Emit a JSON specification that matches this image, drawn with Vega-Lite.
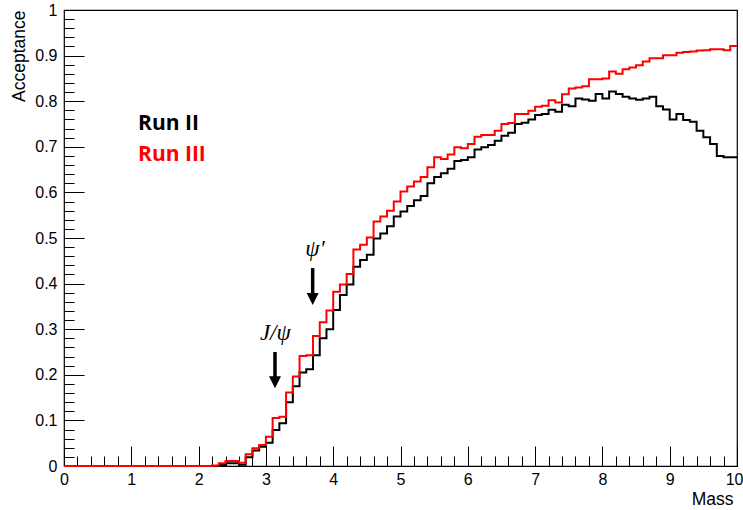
{
  "$schema": "https://vega.github.io/schema/vega-lite/v6.json",
  "width": 673,
  "height": 456,
  "autosize": {"type": "none"},
  "padding": {"left": 64, "top": 10, "right": 6, "bottom": 44},
  "background": "white",
  "config": {
    "font": "Liberation Sans",
    "view": {"stroke": "#000", "strokeWidth": 1.2},
    "axis": {
      "domain": false,
      "grid": false,
      "labelFlush": false,
      "tickColor": "#000",
      "tickWidth": 1,
      "labelColor": "#000",
      "labelFont": "Liberation Sans",
      "labelFontSize": 16,
      "titleColor": "#000",
      "titleFont": "Liberation Sans",
      "titleFontSize": 17.5,
      "titleFontWeight": "normal"
    }
  },
  "data": {
    "values": [
      {"m": 0.0, "II": 0, "III": 0}, {"m": 0.1, "II": 0, "III": 0}, {"m": 0.2, "II": 0, "III": 0}, {"m": 0.3, "II": 0, "III": 0},
      {"m": 0.4, "II": 0, "III": 0}, {"m": 0.5, "II": 0, "III": 0}, {"m": 0.6, "II": 0, "III": 0}, {"m": 0.7, "II": 0, "III": 0},
      {"m": 0.8, "II": 0, "III": 0}, {"m": 0.9, "II": 0, "III": 0}, {"m": 1.0, "II": 0, "III": 0}, {"m": 1.1, "II": 0, "III": 0},
      {"m": 1.2, "II": 0, "III": 0}, {"m": 1.3, "II": 0, "III": 0}, {"m": 1.4, "II": 0, "III": 0}, {"m": 1.5, "II": 0, "III": 0},
      {"m": 1.6, "II": 0, "III": 0}, {"m": 1.7, "II": 0, "III": 0}, {"m": 1.8, "II": 0, "III": 0}, {"m": 1.9, "II": 0, "III": 0},
      {"m": 2.0, "II": 0, "III": 0}, {"m": 2.1, "II": 0, "III": 0}, {"m": 2.2, "II": 0, "III": 0.001}, {"m": 2.3, "II": 0.002, "III": 0.006},
      {"m": 2.4, "II": 0.006, "III": 0.011}, {"m": 2.5, "II": 0.006, "III": 0.011}, {"m": 2.6, "II": 0.003, "III": 0.007}, {"m": 2.7, "II": 0.019, "III": 0.026},
      {"m": 2.8, "II": 0.034, "III": 0.039}, {"m": 2.9, "II": 0.042, "III": 0.046}, {"m": 3.0, "II": 0.051, "III": 0.064}, {"m": 3.1, "II": 0.079, "III": 0.105},
      {"m": 3.2, "II": 0.094, "III": 0.108}, {"m": 3.3, "II": 0.14, "III": 0.161}, {"m": 3.4, "II": 0.175, "III": 0.196}, {"m": 3.5, "II": 0.205, "III": 0.241},
      {"m": 3.6, "II": 0.212, "III": 0.243}, {"m": 3.7, "II": 0.243, "III": 0.285}, {"m": 3.8, "II": 0.28, "III": 0.315}, {"m": 3.9, "II": 0.3, "III": 0.341},
      {"m": 4.0, "II": 0.342, "III": 0.382}, {"m": 4.1, "II": 0.375, "III": 0.398}, {"m": 4.2, "II": 0.398, "III": 0.421}, {"m": 4.3, "II": 0.437, "III": 0.475},
      {"m": 4.4, "II": 0.452, "III": 0.485}, {"m": 4.5, "II": 0.463, "III": 0.501}, {"m": 4.6, "II": 0.499, "III": 0.536}, {"m": 4.7, "II": 0.51, "III": 0.547},
      {"m": 4.8, "II": 0.526, "III": 0.56}, {"m": 4.9, "II": 0.547, "III": 0.58}, {"m": 5.0, "II": 0.558, "III": 0.602}, {"m": 5.1, "II": 0.57, "III": 0.613},
      {"m": 5.2, "II": 0.583, "III": 0.624}, {"m": 5.3, "II": 0.592, "III": 0.634}, {"m": 5.4, "II": 0.62, "III": 0.655}, {"m": 5.5, "II": 0.634, "III": 0.677},
      {"m": 5.6, "II": 0.642, "III": 0.673}, {"m": 5.7, "II": 0.652, "III": 0.683}, {"m": 5.8, "II": 0.669, "III": 0.699}, {"m": 5.9, "II": 0.671, "III": 0.697},
      {"m": 6.0, "II": 0.677, "III": 0.706}, {"m": 6.1, "II": 0.694, "III": 0.722}, {"m": 6.2, "II": 0.699, "III": 0.726}, {"m": 6.3, "II": 0.704, "III": 0.726},
      {"m": 6.4, "II": 0.713, "III": 0.735}, {"m": 6.5, "II": 0.724, "III": 0.75}, {"m": 6.6, "II": 0.731, "III": 0.752}, {"m": 6.7, "II": 0.75, "III": 0.772},
      {"m": 6.8, "II": 0.753, "III": 0.772}, {"m": 6.9, "II": 0.76, "III": 0.779}, {"m": 7.0, "II": 0.77, "III": 0.788}, {"m": 7.1, "II": 0.772, "III": 0.79},
      {"m": 7.2, "II": 0.781, "III": 0.802}, {"m": 7.3, "II": 0.777, "III": 0.797}, {"m": 7.4, "II": 0.792, "III": 0.815}, {"m": 7.5, "II": 0.789, "III": 0.828},
      {"m": 7.6, "II": 0.806, "III": 0.83}, {"m": 7.7, "II": 0.804, "III": 0.833}, {"m": 7.8, "II": 0.801, "III": 0.848}, {"m": 7.9, "II": 0.816, "III": 0.848},
      {"m": 8.0, "II": 0.806, "III": 0.85}, {"m": 8.1, "II": 0.821, "III": 0.865}, {"m": 8.2, "II": 0.816, "III": 0.86}, {"m": 8.3, "II": 0.81, "III": 0.87},
      {"m": 8.4, "II": 0.806, "III": 0.874}, {"m": 8.5, "II": 0.803, "III": 0.879}, {"m": 8.6, "II": 0.806, "III": 0.887}, {"m": 8.7, "II": 0.81, "III": 0.894},
      {"m": 8.8, "II": 0.789, "III": 0.894}, {"m": 8.9, "II": 0.782, "III": 0.901}, {"m": 9.0, "II": 0.76, "III": 0.901}, {"m": 9.1, "II": 0.772, "III": 0.906},
      {"m": 9.2, "II": 0.759, "III": 0.908}, {"m": 9.3, "II": 0.755, "III": 0.909}, {"m": 9.4, "II": 0.735, "III": 0.911}, {"m": 9.5, "II": 0.721, "III": 0.912},
      {"m": 9.6, "II": 0.706, "III": 0.914}, {"m": 9.7, "II": 0.68, "III": 0.914}, {"m": 9.8, "II": 0.677, "III": 0.912}, {"m": 9.9, "II": 0.677, "III": 0.921},
      {"m": 10.0, "II": 0.677, "III": 0.921}
    ]
  },
  "resolve": {"axis": {"x": "independent", "y": "independent"}},
  "layer": [
    {
      "mark": {"type": "line", "interpolate": "step-after", "color": "#000", "strokeWidth": 2},
      "encoding": {
        "x": {
          "field": "m", "type": "quantitative",
          "scale": {"domain": [0, 10], "nice": false, "zero": false},
          "axis": {
            "orient": "bottom", "labels": false, "title": null, "tickSize": -10,
            "values": [0,0.2,0.4,0.6,0.8,1,1.2,1.4,1.6,1.8,2,2.2,2.4,2.6,2.8,3,3.2,3.4,3.6,3.8,4,4.2,4.4,4.6,4.8,5,5.2,5.4,5.6,5.8,6,6.2,6.4,6.6,6.8,7,7.2,7.4,7.6,7.8,8,8.2,8.4,8.6,8.8,9,9.2,9.4,9.6,9.8,10]
          }
        },
        "y": {
          "field": "II", "type": "quantitative",
          "scale": {"domain": [0, 1], "nice": false},
          "axis": {
            "orient": "left", "labels": false, "title": null, "tickSize": -10,
            "values": [0,0.02,0.04,0.06,0.08,0.1,0.12,0.14,0.16,0.18,0.2,0.22,0.24,0.26,0.28,0.3,0.32,0.34,0.36,0.38,0.4,0.42,0.44,0.46,0.48,0.5,0.52,0.54,0.56,0.58,0.6,0.62,0.64,0.66,0.68,0.7,0.72,0.74,0.76,0.78,0.8,0.82,0.84,0.86,0.88,0.9,0.92,0.94,0.96,0.98,1]
          }
        }
      }
    },
    {
      "mark": {"type": "line", "interpolate": "step-after", "color": "#ff0000", "strokeWidth": 2},
      "encoding": {
        "x": {
          "field": "m", "type": "quantitative",
          "axis": {
            "orient": "bottom", "tickSize": -20, "labelPadding": 25, "format": "d",
            "values": [0,1,2,3,4,5,6,7,8,9,10],
            "labelAlign": {"condition": {"test": "datum.value >= 10", "value": "right"}, "value": "center"},
            "labelOffset": {"condition": {"test": "datum.value >= 10", "value": 6}, "value": 0},
            "title": "Mass", "titleX": 669, "titleY": 38, "titleAlign": "right", "titleBaseline": "alphabetic"
          }
        },
        "y": {
          "field": "III", "type": "quantitative",
          "axis": {
            "orient": "left", "tickSize": -20, "labelPadding": 27, "format": "~r",
            "values": [0,0.1,0.2,0.3,0.4,0.5,0.6,0.7,0.8,0.9,1],
            "title": "Acceptance", "titleAngle": -90, "titleX": -40, "titleY": 0,
            "titleAlign": "right", "titleBaseline": "alphabetic"
          }
        }
      }
    },
    {
      "data": {"values": [{"x": 3.135, "top": 0.25, "bottom": 0.19}, {"x": 3.695, "top": 0.434, "bottom": 0.372}]},
      "mark": {"type": "rule", "color": "#000", "strokeWidth": 3.5},
      "encoding": {
        "x": {"field": "x", "type": "quantitative", "axis": null},
        "y": {"field": "top", "type": "quantitative", "axis": null},
        "y2": {"field": "bottom"}
      }
    },
    {
      "data": {"values": [{"x": 3.135, "tip": 0.1835}, {"x": 3.695, "tip": 0.366}]},
      "mark": {"type": "point", "shape": "M-1,-1L1,-1L0,1Z", "filled": true, "color": "#000", "opacity": 1, "size": 144, "strokeWidth": 0},
      "encoding": {
        "x": {"field": "x", "type": "quantitative", "axis": null},
        "y": {"field": "tip", "type": "quantitative", "axis": null}
      }
    },
    {
      "data": {"values": [{"x": 3.14, "y": 0.276, "label": "J/ψ"}, {"x": 3.73, "y": 0.46, "label": "ψ′"}]},
      "mark": {"type": "text", "font": "Liberation Serif", "fontStyle": "italic", "fontSize": 23, "align": "center", "baseline": "alphabetic", "color": "#000"},
      "encoding": {
        "x": {"field": "x", "type": "quantitative", "axis": null},
        "y": {"field": "y", "type": "quantitative", "axis": null},
        "text": {"field": "label"}
      }
    },
    {
      "data": {"values": [{"x": 1.1, "y": 0.737, "label": "Run II"}, {"x": 1.1, "y": 0.669, "label": "Run III"}]},
      "mark": {"type": "text", "font": "Open Sans", "fontWeight": "bold", "fontSize": 21, "align": "left", "baseline": "alphabetic"},
      "encoding": {
        "x": {"field": "x", "type": "quantitative", "axis": null},
        "y": {"field": "y", "type": "quantitative", "axis": null},
        "text": {"field": "label"},
        "color": {"field": "label", "type": "nominal", "scale": {"domain": ["Run II", "Run III"], "range": ["#000000", "#ff0000"]}, "legend": null}
      }
    }
  ]
}
